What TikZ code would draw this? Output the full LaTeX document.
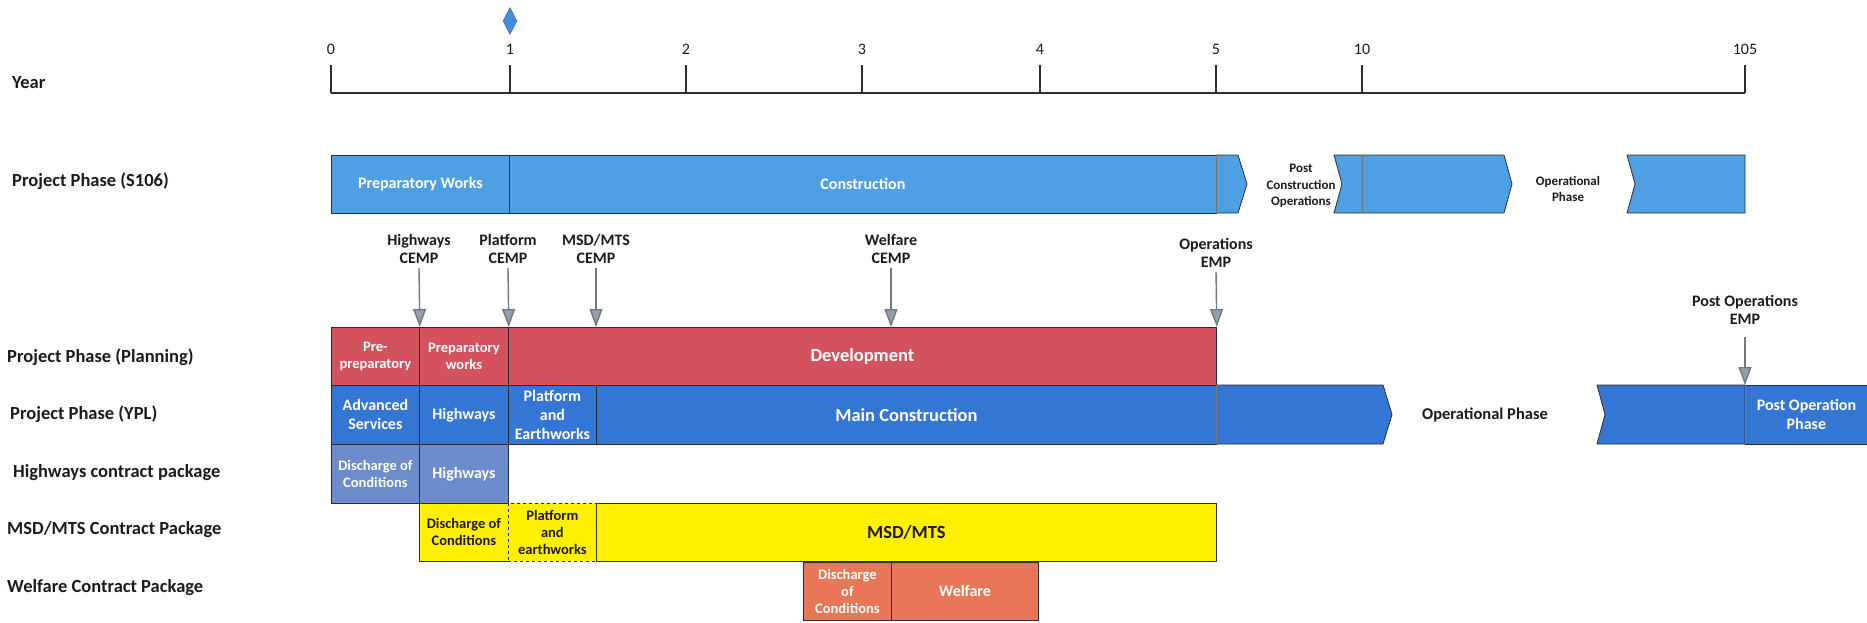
\documentclass[tikz,border=0pt]{standalone}
\usepackage{fontspec}
\setmainfont{Carlito}
\usetikzlibrary{arrows.meta,shapes.geometric}
\definecolor{sblue}{RGB}{78,160,226}
\definecolor{yblue}{RGB}{52,118,212}
\definecolor{pred}{RGB}{212,82,96}
\definecolor{hblue}{RGB}{108,140,204}
\definecolor{myel}{RGB}{255,240,0}
\definecolor{wsal}{RGB}{233,118,88}
\definecolor{dblue}{RGB}{66,140,225}
\definecolor{agray}{RGB}{115,120,125}
\definecolor{hfill}{RGB}{150,160,170}
\definecolor{edge}{RGB}{45,45,50}
\definecolor{ink}{RGB}{30,25,30}
\begin{document}
\begin{tikzpicture}[x=1pt,y=-1pt,
  lbl/.style={anchor=west,inner sep=0pt,text=ink,font=\bfseries\fontsize{18.5}{22}\selectfont},
  seg/.style={draw=edge,line width=0.8pt,inner sep=0pt,anchor=north west,align=center,text=white,font=\bfseries\fontsize{16}{19}\selectfont},
  smalltxt/.style={font=\bfseries\fontsize{14.5}{17}\selectfont},
  bigtxt/.style={font=\bfseries\fontsize{18.5}{22}\selectfont},
  mslabel/.style={align=center,inner sep=0pt,text=ink,font=\bfseries\fontsize{16}{18}\selectfont},
  notetxt/.style={align=center,inner sep=0pt,text=ink,font=\bfseries\fontsize{13}{16.5}\selectfont},
  marker/.style={draw=agray,line width=1.4pt,-{Triangle[width=13pt,length=18pt,fill=hfill]}},
  piece/.style={draw=edge,line width=0.8pt},
  divider/.style={draw=agray,line width=0.8pt}
]
\useasboundingbox (0,0) rectangle (1867,623);

% ---- Year axis ----
\node[diamond,fill=dblue,draw=dblue!70!black,line width=0.4pt,minimum width=14pt,minimum height=27pt,inner sep=0pt] (mstone) at (510,21) {};
\draw[edge,line width=2pt] (331,93) -- (1745,93);
\foreach \x/\t in {331/0,510/1,686/2,862/3,1040/4,1216/5,1362/10,1745/105}{
  \draw[edge,line width=1.6pt] (\x,93) -- (\x,65);
  \node[inner sep=0pt,text=ink,font=\fontsize{16}{18}\selectfont] (t\t) at (\x,49) {\t};
}

% ---- row labels ----
\node[lbl] (ly) at (12,83) {Year};
\node[lbl] (ls) at (12,181) {Project Phase (S106)};
\node[lbl] (lp) at (7,357) {Project Phase (Planning)};
\node[lbl] (lyp) at (10,414) {Project Phase (YPL)};
\node[lbl] (lh) at (13,473) {Highways contract package};
\node[lbl] (lm) at (7,530) {MSD/MTS Contract Package};
\node[lbl] (lw) at (7,588) {Welfare Contract Package};

% ---- S106 row ----
\node[seg,fill=sblue,minimum width=178pt,minimum height=58pt] (prepw) at (331,155) {Preparatory Works};
\node[seg,fill=sblue,minimum width=707pt,minimum height=58pt] (constr) at (509,155) {Construction};
\fill[sblue] (1216,155) -- (1238,155) -- (1247,184) -- (1238,213) -- (1216,213) -- cycle;
\draw[piece] (1216,155) -- (1238,155) -- (1247,184) -- (1238,213) -- (1216,213);
\draw[divider] (1216,155) -- (1216,213);
\node[notetxt] (pco) at (1301,186) {Post\\Construction\\Operations};
\draw[piece,fill=sblue] (1334,155) -- (1504,155) -- (1512,184) -- (1504,213) -- (1334,213) -- (1342,184) -- cycle;
\draw[divider] (1362,155) -- (1362,213);
\node[notetxt] (sop) at (1568,189) {Operational\\Phase};
\draw[piece,fill=sblue] (1627,155) -- (1745,155) -- (1745,213) -- (1627,213) -- (1635,184) -- cycle;

% ---- Planning row ----
\node[seg,smalltxt,fill=pred,minimum width=88pt,minimum height=58pt] (pre) at (331,327) {Pre-\\preparatory};
\node[seg,smalltxt,fill=pred,minimum width=89pt,minimum height=58pt] (prep) at (419,327) {Preparatory\\works};
\node[seg,bigtxt,fill=pred,minimum width=708pt,minimum height=58pt] (dev) at (508,327) {Development};

% ---- YPL row ----
\node[seg,fill=yblue,minimum width=88pt,minimum height=59pt] (adv) at (331,385) {Advanced\\Services};
\node[seg,fill=yblue,minimum width=89pt,minimum height=59pt] (hwy) at (419,385) {Highways};
\node[seg,fill=yblue,minimum width=88pt,minimum height=59pt] (pfe) at (508,385) {Platform\\and\\Earthworks};
\node[seg,bigtxt,fill=yblue,minimum width=620pt,minimum height=59pt] (mainc) at (596,385) {Main Construction};
\fill[yblue] (1216,385) -- (1383,385) -- (1392,414.5) -- (1383,444) -- (1216,444) -- cycle;
\draw[piece] (1216,385) -- (1383,385) -- (1392,414.5) -- (1383,444) -- (1216,444);
\draw[divider] (1216,385) -- (1216,444);
\node[inner sep=0pt,text=ink,font=\bfseries\fontsize{16.5}{19}\selectfont] (yop) at (1485,415) {Operational Phase};
\draw[piece,fill=yblue] (1597,385) -- (1745,385) -- (1745,444) -- (1597,444) -- (1605,414.5) -- cycle;
\node[seg,fill=yblue,minimum width=122pt,minimum height=59pt] (postop) at (1745,385) {Post Operation\\Phase};
\draw[divider] (1745,385) -- (1745,444);

% ---- Highways contract row ----
\node[seg,smalltxt,fill=hblue,minimum width=88pt,minimum height=59pt] (hdoc) at (331,444) {Discharge of\\Conditions};
\node[seg,fill=hblue,minimum width=89pt,minimum height=59pt] (hhw) at (419,444) {Highways};

% ---- MSD/MTS contract row ----
\node[seg,smalltxt,fill=myel,text=ink,minimum width=89pt,minimum height=58pt] (mdoc) at (419,503) {Discharge of\\Conditions};
\node[seg,smalltxt,fill=myel,text=ink,dashed,minimum width=88pt,minimum height=58pt] (mpe) at (508,503) {Platform\\and\\earthworks};
\node[seg,bigtxt,fill=myel,text=ink,minimum width=620pt,minimum height=58pt] (mmsd) at (596,503) {MSD/MTS};

% ---- Welfare contract row ----
\node[seg,smalltxt,fill=wsal,minimum width=88pt,minimum height=58pt] (wdoc) at (803,562) {Discharge\\of\\Conditions};
\node[seg,fill=wsal,minimum width=147pt,minimum height=58pt] (wel) at (891,562) {Welfare};

% ---- management plan markers ----
\node[mslabel] (c1) at (419,249) {Highways\\CEMP};
\node[mslabel] (c2) at (508,249) {Platform\\CEMP};
\node[mslabel] (c3) at (596,249) {MSD/MTS\\CEMP};
\node[mslabel] (c4) at (891,249) {Welfare\\CEMP};
\node[mslabel] (c5) at (1216,253) {Operations\\EMP};
\node[mslabel] (c6) at (1745,310) {Post Operations\\EMP};
\draw[marker] ([yshift=-4pt]c1.south) -- (pre.north east);
\draw[marker] ([yshift=-4pt]c2.south) -- (prep.north east);
\draw[marker] ([yshift=-4pt]c3.south) -- (dev.north west -| mainc.north west);
\draw[marker] ([yshift=-4pt]c4.south) -- (dev.north west -| wel.north west);
\draw[marker] ([yshift=-4pt]c5.south) -- (dev.north east);
\draw[marker] ([yshift=-12pt]c6.south) -- (postop.north west);
\end{tikzpicture}
\end{document}
